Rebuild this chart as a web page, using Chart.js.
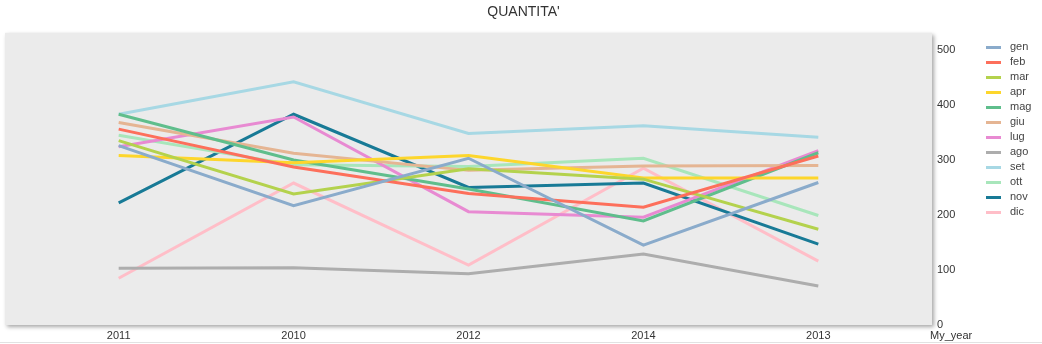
<!DOCTYPE html>
<html lang="it">
<head>
    <meta charset="UTF-8">
    <title>QUANTITA'</title>
    <script src="https://cdn.jsdelivr.net/npm/chart.js"></script>
    <style>
        body { margin: 0; background: #fff; font-family: "Liberation Sans", Arial, sans-serif; }
        #wrap { position: relative; width: 1042px; height: 344px; overflow: hidden; }
        #wrap canvas { position: absolute; left: 0; top: 0; }
        #legend { position: absolute; left: 986px; top: 39px; font-size: 11px; color: #444; }
        #legend div { height: 15px; line-height: 15px; white-space: nowrap; }
        #legend span { display: inline-block; width: 15px; height: 3px; vertical-align: middle; margin-right: 9px; }
        #foot { position: absolute; left: 0; top: 342px; width: 1042px; height: 1px; background: #e2e2e2; }
    </style>
</head>
<body>
<div id="wrap">
    <canvas id="chart" width="1042" height="344"></canvas>
    <div id="legend"></div>
    <div id="foot"></div>
</div>
<script>
    const years = ['2011', '2010', '2012', '2014', '2013'];
    const yTicks = [0, 100, 200, 300, 400, 500];

    const months = ['gen', 'feb', 'mar', 'apr', 'mag', 'giu', 'lug', 'ago', 'set', 'ott', 'nov', 'dic'];
    const colors = ['#8aabcb', '#fd6f5b', '#b4d24d', '#fdd62c', '#5fbe8c', '#e5b593', '#e88ad2',
                    '#adadad', '#a7d8e4', '#a8e6bb', '#187a96', '#ffbec8'];

    const gen = [326, 217, 303, 145, 259];
    const feb = [356, 287, 239, 214, 307];
    const mar = [335, 238, 284, 265, 174];
    const apr = [308, 295, 308, 267, 267];
    const mag = [383, 300, 247, 189, 313];
    const giu = [368, 312, 281, 289, 290];
    const lug = [324, 378, 206, 196, 317];
    const ago = [103, 104, 93, 129, 71];
    const set = [383, 442, 348, 362, 341];
    const ott = [345, 291, 288, 303, 199];
    const nov = [222, 383, 250, 258, 147];
    const dic = [85, 258, 109, 285, 116];

    const series = [gen, feb, mar, apr, mag, giu, lug, ago, set, ott, nov, dic];

    const datasets = months.map((m, i) => ({
        label: m,
        data: series[i].map((v, j) => ({ x: j, y: v })),
        borderColor: colors[i],
        backgroundColor: colors[i],
        borderWidth: 3,
        pointRadius: 0,
        tension: 0
    }));

    // gray plot panel with a soft shadow
    const panel = {
        id: 'panel',
        beforeDraw(chart) {
            const { ctx, chartArea: a } = chart;
            ctx.save();
            ctx.shadowColor = 'rgba(0,0,0,0.35)';
            ctx.shadowBlur = 4;
            ctx.shadowOffsetX = 2;
            ctx.shadowOffsetY = 2;
            ctx.fillStyle = '#ebebeb';
            ctx.fillRect(a.left, a.top, a.right - a.left, a.bottom - a.top);
            ctx.restore();
        },
        afterDraw(chart) {
            const { ctx, chartArea: a } = chart;
            ctx.save();
            ctx.font = '11px "Liberation Sans", Arial, sans-serif';
            ctx.fillStyle = '#333';
            ctx.textBaseline = 'middle';
            ctx.fillText('My_year', a.right - 2, a.bottom + 11);
            ctx.restore();
        }
    };

    new Chart(document.getElementById('chart'), {
        type: 'line',
        data: { datasets: datasets },
        plugins: [panel],
        options: {
            responsive: false,
            animation: false,
            layout: { padding: { left: 5, right: 0, top: 0, bottom: 0 } },
            scales: {
                x: {
                    type: 'linear',
                    min: -0.65,
                    max: 4.65,
                    afterBuildTicks: s => { s.ticks = years.map((y, i) => ({ value: i })); },
                    afterFit: s => { s.height = 19; },
                    grid: { display: false, drawTicks: false },
                    border: { display: false },
                    ticks: {
                        callback: v => years[v],
                        color: '#333',
                        padding: 4,
                        font: { size: 11, family: '"Liberation Sans", Arial, sans-serif' },
                        maxRotation: 0
                    }
                },
                y: {
                    position: 'right',
                    min: 0,
                    max: 531,
                    afterBuildTicks: s => { s.ticks = yTicks.map(v => ({ value: v })); },
                    afterFit: s => { s.width = 110; },
                    grid: { display: false, drawTicks: false },
                    border: { display: false },
                    ticks: {
                        color: '#333',
                        padding: 5,
                        font: { size: 11, family: '"Liberation Sans", Arial, sans-serif' }
                    }
                }
            },
            plugins: {
                legend: { display: false },
                tooltip: { enabled: false },
                title: {
                    display: true,
                    text: "QUANTITA'",
                    color: '#333',
                    font: { size: 14, weight: 'normal', family: '"Liberation Sans", Arial, sans-serif' },
                    padding: { top: 4, bottom: 12 }
                }
            }
        }
    });

    const legend = document.getElementById('legend');
    months.forEach((m, i) => {
        const row = document.createElement('div');
        row.innerHTML = '<span style="background:' + colors[i] + '"></span>' + m;
        legend.appendChild(row);
    });
</script>
</body>
</html>
